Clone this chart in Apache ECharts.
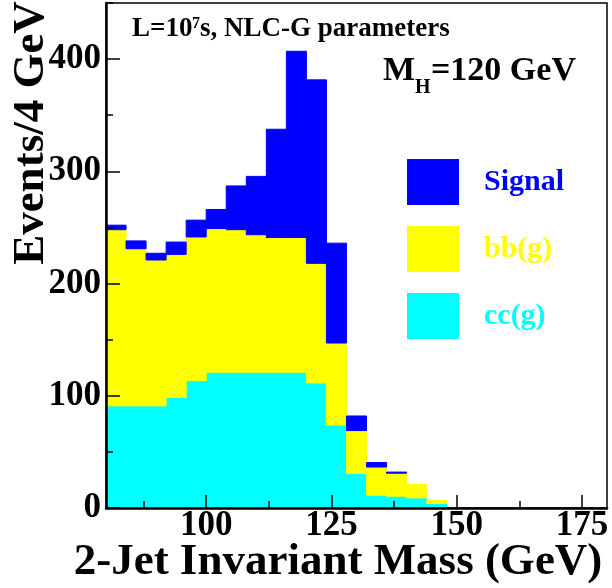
<!DOCTYPE html>
<html><head><meta charset="utf-8">
<script src="https://cdn.jsdelivr.net/npm/echarts@6/dist/echarts.min.js"></script>
<style>html,body{margin:0;padding:0;background:#fff}#c{width:612px;height:588px}</style>
</head><body><div id="c"></div>
<script>
const binLow = [80,84,88,92,96,100,104,108,112,116,120,124,128,132,136,140,144,148,152,156,160,164,168,172,176];
const binWidth = 4;
const ccValues     = [91,91,91,98.5,113.5,121,121,121,121,121,111.5,74,31,11.5,10.5,9,4,0,0,0,0,0,0,0,0];
const bbValues     = [157,140,130,127.5,128,128,127,122.5,120,120,106.5,73,38,25,20.5,12,3,0,0,0,0,0,0,0,0];
const signalValues = [4,7,6,11,15,17,39,52,96.5,166,163.5,89,13,4,1,0,0,0,0,0,0,0,0,0,0];
const xMajorTicks = [100,125,150,175];
const xMinorTicks = [87.5,112.5,137.5,162.5];
const yMajorTicks = [0,100,200,300,400];
const yMinorTicks = [50,150,250,350,450];

const FONT = 'Liberation Serif';

function stackData(values, bases){
  return values.map((v,i)=>[binLow[i], binLow[i]+binWidth, bases[i], bases[i]+v]);
}
const ccBase = binLow.map(()=>0);
const bbBase = ccValues.slice();
const sigBase = ccValues.map((v,i)=>v+bbValues[i]);

function renderItem(params, api){
  const x0 = api.value(0), x1 = api.value(1), y0 = api.value(2), y1 = api.value(3);
  if (!(y1 > y0)) return;
  const p0 = api.coord([x0, y1]);
  const p1 = api.coord([x1, y0]);
  const c = api.visual('color');
  return {type:'rect', shape:{x:p0[0], y:p0[1], width:p1[0]-p0[0], height:p1[1]-p0[1]},
          style:{fill: c, stroke: c, lineWidth: 1}};
}

const chart = echarts.init(document.getElementById('c'), null, {renderer:'canvas'});
const axisFont = {fontFamily: FONT, fontWeight:'bold', color:'#000'};
chart.setOption({
  animation:false,
  grid:{left:106, right:5, top:3, bottom:80, show:true, borderColor:'#000', borderWidth:1.5, backgroundColor:'transparent'},
  xAxis:[
    {type:'value', min:80, max:180, position:'bottom', z:10,
     axisLine:{show:true, onZero:false, lineStyle:{color:'#000', width:2.5}},
     axisTick:{show:true, inside:true, length:13, customValues:xMajorTicks, lineStyle:{color:'#000', width:1.5}},
     axisLabel:Object.assign({customValues:xMajorTicks, fontSize:35, margin:0}, axisFont),
     splitLine:{show:false}},
    {type:'value', min:80, max:180, position:'bottom', z:10,
     axisLine:{show:false},
     axisTick:{show:true, inside:true, length:7, customValues:xMinorTicks, lineStyle:{color:'#000', width:1.5}},
     axisLabel:{show:false}, splitLine:{show:false}}
  ],
  yAxis:[
    {type:'value', min:0, max:450, position:'left', z:10,
     axisLine:{show:true, onZero:false, lineStyle:{color:'#000', width:2.5}},
     axisTick:{show:true, inside:true, length:14, customValues:yMajorTicks, lineStyle:{color:'#000', width:1.5}},
     axisLabel:Object.assign({customValues:yMajorTicks, fontSize:35, margin:5}, axisFont),
     splitLine:{show:false}},
    {type:'value', min:0, max:450, position:'left', z:10,
     axisLine:{show:false},
     axisTick:{show:true, inside:true, length:7, customValues:yMinorTicks, lineStyle:{color:'#000', width:1.5}},
     axisLabel:{show:false}, splitLine:{show:false}}
  ],
  legend:{orient:'vertical', left:407, top:159, padding:0, itemWidth:52, itemHeight:46, itemGap:21, icon:'rect',
    selectedMode:false,
    textStyle:{fontFamily:FONT, fontWeight:'bold', fontSize:30, padding:[0,0,0,20]},
    data:[{name:'Signal', textStyle:{color:'#0000ff'}},
          {name:'bb(g)', textStyle:{color:'#ffff00'}},
          {name:'cc(g)', textStyle:{color:'#00ffff'}}]},
  series:[
    {type:'custom', name:'cc(g)', renderItem, encode:{x:[0,1], y:[2,3]}, itemStyle:{color:'#00ffff'},
     data:stackData(ccValues, ccBase)},
    {type:'custom', name:'bb(g)', renderItem, encode:{x:[0,1], y:[2,3]}, itemStyle:{color:'#ffff00'},
     data:stackData(bbValues, bbBase)},
    {type:'custom', name:'Signal', renderItem, encode:{x:[0,1], y:[2,3]}, itemStyle:{color:'#0000ff'},
     data:stackData(signalValues, sigBase)}
  ],
  graphic:[
    {type:'text', x:31, y:133, rotation:Math.PI/2, z:20,
     style:{text:'Events/4 GeV', font:'bold 45px "Liberation Serif"', fill:'#000', align:'center', verticalAlign:'middle'}},
    {type:'text', x:338, y:562, z:20,
     style:{text:'2-Jet Invariant Mass (GeV)', font:'bold 45px "Liberation Serif"', fill:'#000', align:'center', verticalAlign:'middle'}},
    {type:'text', x:132, y:29, z:20,
     style:{text:'L=10', font:'bold 27px "Liberation Serif"', fill:'#000', align:'left', verticalAlign:'middle'}},
    {type:'text', x:192, y:24, z:20,
     style:{text:'7', font:'bold 16px "Liberation Serif"', fill:'#000', align:'left', verticalAlign:'middle'}},
    {type:'text', x:200, y:29, z:20,
     style:{text:'s, NLC-G parameters', font:'bold 27px "Liberation Serif"', fill:'#000', align:'left', verticalAlign:'middle'}},
    {type:'text', x:383, y:71, z:20,
     style:{text:'M', font:'bold 34px "Liberation Serif"', fill:'#000', align:'left', verticalAlign:'middle'}},
    {type:'text', x:415, y:88, z:20,
     style:{text:'H', font:'bold 20px "Liberation Serif"', fill:'#000', align:'left', verticalAlign:'middle'}},
    {type:'text', x:431, y:71, z:20,
     style:{text:'=120 GeV', font:'bold 34px "Liberation Serif"', fill:'#000', align:'left', verticalAlign:'middle'}}
  ]
});
</script></body></html>
